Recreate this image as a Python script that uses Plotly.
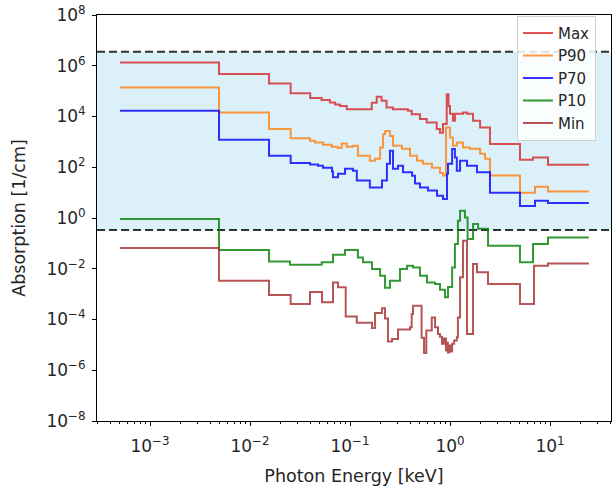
import plotly.graph_objects as go

# ---------------- data (photon energy in keV, absorption in 1/cm) ----------------
MAX_E = [5e-4, 0.0049, 0.0155, 0.0255, 0.040, 0.052, 0.063, 0.071, 0.0794, 0.0927, 0.165, 0.185,
         0.207, 0.232, 0.269, 0.380, 0.414, 0.501, 0.585, 0.736, 0.794, 0.851, 0.927, 0.966, 1.0,
         1.07, 1.12, 1.35, 1.48, 1.70, 2.0, 2.51, 5.01, 6.76, 9.55, 24.5]
MAX_V = [1.35e6, 4.7e5, 2.0e5, 8.3e4, 5.3e4, 4.5e4, 3.55e4, 3.0e4, 2.6e4, 1.95e4, 3.5e4, 6.0e4,
         4.2e4, 2.25e4, 1.95e4, 1.67e4, 1.24e4, 7.9e3, 5.8e3, 3.2e3, 2.3e3, 5.1e3, 7.6e4, 2.6e4, 1.27e4,
         6.8e3, 1.27e4, 1.44e4, 1.27e4, 6.8e3, 3.7e3, 820, 198, 244, 126, 126]

P90_E = [5e-4, 0.0049, 0.0155, 0.0255, 0.0398, 0.0447, 0.0537, 0.0656, 0.0759, 0.0826, 0.0927, 0.107,
         0.120, 0.158, 0.178, 0.200, 0.214, 0.224, 0.251, 0.269, 0.331, 0.398, 0.468, 0.537, 0.661,
         0.794, 0.851, 0.912, 1.0, 1.07, 1.17, 1.35, 1.58, 2.0, 2.24, 2.51, 5.01, 7.08, 9.55, 24.5]
P90_V = [1.4e5, 1.44e4, 3.2e3, 1.4e3, 1.1e3, 950, 770, 640, 570, 870, 640, 700,
         285, 180, 215, 600, 2.0e3, 2.7e3, 1.7e3, 700, 535, 285, 180, 137, 95,
         60, 47, 3.7e3, 1.5e3, 700, 950, 600, 535, 340, 215, 47, 10, 17, 11, 11]

P70_E = [5e-4, 0.0049, 0.0155, 0.0255, 0.0398, 0.0479, 0.0537, 0.0661, 0.0676, 0.0759, 0.0891, 0.107,
         0.117, 0.158, 0.209, 0.234, 0.251, 0.269, 0.302, 0.339, 0.417, 0.447, 0.501, 0.603, 0.741,
         0.851, 0.933, 0.955, 1.05, 1.12, 1.17, 1.26, 1.48, 1.86, 2.51, 5.01, 7.08, 9.55, 24.5]
P70_V = [1.67e4, 1.2e3, 283, 146, 128, 115, 96, 68, 40, 55, 87, 73,
         30, 16, 30, 137, 445, 87, 115, 63, 46, 23, 16, 12, 7.6,
         5.6, 55, 137, 525, 244, 73, 180, 115, 63, 10, 3.0, 4.8, 3.9, 3.9]

P10_E = [5e-4, 0.0049, 0.0155, 0.0251, 0.0521, 0.0676, 0.0891, 0.120, 0.135, 0.166, 0.200, 0.224,
         0.251, 0.316, 0.372, 0.427, 0.501, 0.589, 0.708, 0.794, 0.891, 0.955, 1.05, 1.12, 1.20,
         1.26, 1.41, 1.50, 1.70, 1.91, 2.40, 5.01, 6.76, 9.55, 24.5]
P10_V = [0.91, 0.055, 0.0195, 0.0145, 0.018, 0.036, 0.055, 0.028, 0.018, 0.0098, 0.0053, 0.0018,
         0.0034, 0.0098, 0.013, 0.0113, 0.0053, 0.0029, 0.0025, 0.0015, 7.5e-4, 0.0019, 0.0113, 0.095, 0.78,
         1.95, 1.05, 0.15, 0.58, 0.38, 0.081, 0.018, 0.095, 0.17, 0.17]

MIN_E = [5e-4, 0.0049, 0.0155, 0.0255, 0.0398, 0.0525, 0.0676, 0.0759, 0.0906, 0.117, 0.166, 0.178,
         0.209, 0.224, 0.240, 0.263, 0.302, 0.398, 0.414, 0.427, 0.52, 0.55, 0.58, 0.657, 0.708,
         0.759, 0.794, 0.832, 0.871, 0.912, 0.933, 0.955, 0.977, 1.01, 1.05, 1.10, 1.17, 1.20,
         1.26, 1.35, 1.48, 1.70, 1.86, 2.40, 5.01, 6.92, 9.55, 24.5]
MIN_V = [0.066, 0.0034, 9.3e-4, 4.1e-4, 1.2e-3, 4.8e-4, 2.9e-3, 1.85e-3, 1.3e-4, 7.5e-5, 4.6e-5, 1.8e-4,
         2.8e-4, 1.1e-4, 1.35e-5, 1.7e-5, 4e-5, 4.9e-5, 1.66e-4, 3.5e-4, 1.9e-5, 4.8e-6, 3.7e-5, 1.2e-4, 4.9e-5,
         2.7e-5, 2.1e-5, 1.1e-5, 1.8e-5, 6e-6, 1.2e-5, 5e-6, 9.4e-6, 5.5e-6, 1.1e-5, 1.5e-5, 2e-5, 1.2e-4,
         4.6e-3, 0.128, 2.7e-5, 0.0155, 0.0072, 0.0025, 4.1e-4, 0.013, 0.016, 0.016]

BAND_LOW = 0.34
BAND_HIGH = 3.6e6

SERIES_NAMES = ["Max", "P90", "P70", "P10", "Min"]
SERIES = [(MAX_E, MAX_V), (P90_E, P90_V), (P70_E, P70_V), (P10_E, P10_V), (MIN_E, MIN_V)]
COLORS = ["rgba(214,39,40,0.8)", "rgba(255,127,14,0.8)", "rgba(0,0,255,0.8)",
          "rgba(0,128,0,0.8)", "rgba(165,42,42,0.8)"]

X_TICKS = [1e-3, 1e-2, 1e-1, 1e0, 1e1]
X_TICKTEXT = ["10<sup>\u22123</sup>", "10<sup>\u22122</sup>", "10<sup>\u22121</sup>",
              "10<sup>0</sup>", "10<sup>1</sup>"]
Y_TICKS = [1e-8, 1e-6, 1e-4, 1e-2, 1e0, 1e2, 1e4, 1e6, 1e8]
Y_TICKTEXT = ["10<sup>\u22128</sup>", "10<sup>\u22126</sup>", "10<sup>\u22124</sup>", "10<sup>\u22122</sup>",
              "10<sup>0</sup>", "10<sup>2</sup>", "10<sup>4</sup>", "10<sup>6</sup>", "10<sup>8</sup>"]
X_MINOR = [m * 10.0 ** d for d in range(-4, 2) for m in range(2, 10)]

FONT = "DejaVu Sans"
TXT = "#262626"

fig = go.Figure()

for name, (e, v), c in zip(SERIES_NAMES, SERIES, COLORS):
    fig.add_trace(go.Scatter(x=e, y=v, mode="lines", name=name,
                             line=dict(color=c, width=2, shape="hv")))

# shaded band and dashed limits
fig.add_shape(type="rect", xref="paper", yref="y", x0=0, x1=1, y0=BAND_LOW, y1=BAND_HIGH,
              fillcolor="rgba(135,206,235,0.3)", line=dict(width=0), layer="below")
for yv in (BAND_LOW, BAND_HIGH):
    fig.add_shape(type="line", xref="paper", yref="y", x0=0, x1=1, y0=yv, y1=yv,
                  line=dict(color="rgba(0,0,0,0.8)", width=2, dash="8px,4px"), layer="below")

fig.update_layout(
    width=613, height=487,
    margin=dict(l=97, r=2, t=15, b=66, autoexpand=False),
    paper_bgcolor="white", plot_bgcolor="white",
    font=dict(family=FONT, size=17, color=TXT),
    legend=dict(x=0.817, y=0.998, xanchor="left", yanchor="top",
                bgcolor="rgba(255,255,255,0.85)", bordercolor="#d0d0d0", borderwidth=1,
                font=dict(family=FONT, size=15, color=TXT)),
    showlegend=True,
)
fig.update_xaxes(type="log", range=[-3.53, 1.61], showgrid=False, zeroline=False,
                 showline=True, linecolor="black", linewidth=1, mirror=True,
                 ticks="outside", ticklen=4, tickcolor="black", tickfont=dict(size=17),
                 tickmode="array", tickvals=X_TICKS, ticktext=X_TICKTEXT,
                 minor=dict(tickmode="array", tickvals=X_MINOR, ticks="outside", ticklen=2,
                            tickcolor="black", showgrid=False),
                 ticklabelstandoff=6, automargin=False,
                 title=dict(text="Photon Energy [keV]", font=dict(size=17.5), standoff=14))
fig.update_yaxes(type="log", range=[-8, 8], showgrid=False, zeroline=False,
                 showline=True, linecolor="black", linewidth=1, mirror=True,
                 ticks="outside", ticklen=4, tickcolor="black", tickfont=dict(size=17),
                 tickmode="array", tickvals=Y_TICKS, ticktext=Y_TICKTEXT,
                 ticklabelstandoff=3, automargin=False,
                 title=dict(text="Absorption [1/cm]", font=dict(size=17.5), standoff=16))

fig.write_html("out.html", config={"displayModeBar": False},
               post_script="document.body.style.margin='0';")
